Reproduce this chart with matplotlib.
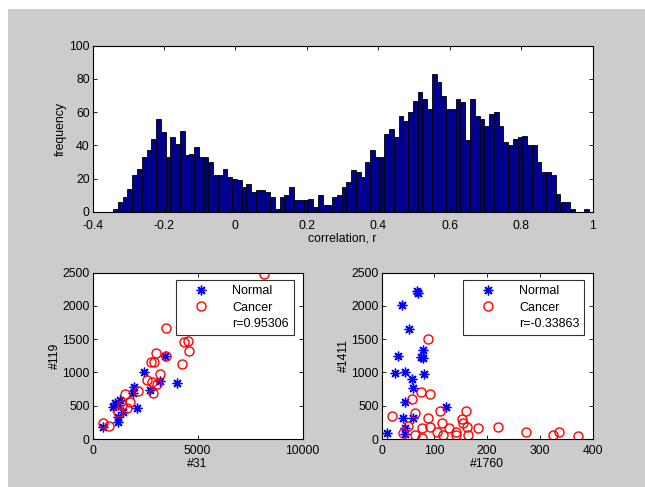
import numpy as np
import matplotlib
matplotlib.use("Agg")
import matplotlib.pyplot as plt
from matplotlib.patches import Rectangle
from matplotlib.lines import Line2D

plt.rcParams["font.family"] = ["Liberation Sans", "DejaVu Sans"]
plt.rcParams["font.size"] = 8.8

# histogram of correlations (100 bins from -0.342 to 0.99)
hist_lo, hist_hi = -0.342, 0.99
hist_counts = [2, 6, 9, 14, 22, 26, 33, 37, 44, 56, 48, 33, 45, 41, 49, 34, 35, 39, 33, 33,
               30, 22, 22, 26, 21, 20, 19, 15, 17, 12, 13, 13, 12, 9, 2, 9, 10, 15, 7, 7,
               7, 8, 3, 10, 4, 4, 9, 10, 15, 18,
               25, 24, 21, 30, 37, 33, 33, 47, 50, 45, 58, 55, 60, 67, 72, 68, 62, 83, 78, 70,
               62, 62, 68, 66, 43, 68, 58, 56, 52, 59, 60, 52, 42, 40, 44, 45, 46, 40, 40, 30,
               24, 24, 22, 11, 6, 6, 2, 0, 0, 2]

# gene #31 vs #119
g31_normal = [3450, 2469, 3216, 4040, 2739, 1992, 1945, 1310, 1071, 992, 1230, 2103, 1468, 1198, 484, 1230]
g119_normal = [1252, 1012, 872, 847, 736, 786, 696, 586, 536, 486, 511, 461, 411, 261, 185, 336]
g31_cancer = [8183, 3500, 4373, 4533, 4610, 4246, 3040, 3500, 2786, 2929, 3200, 2580, 2810, 3050,
              2183, 2865, 1548, 1786, 1389, 1627, 1230, 516, 801]
g119_cancer = [2480, 1673, 1453, 1468, 1327, 1122, 1288, 1252, 1152, 1152, 972, 887, 862, 832,
               721, 686, 671, 561, 511, 461, 411, 246, 195]
r_left = "r=0.95306"

# gene #1760 vs #1411
g1760_normal = [67, 70, 38, 53, 32, 78, 75, 79, 26, 45, 81, 57, 60, 45, 122, 41, 60, 10, 45, 45]
g1411_normal = [2224, 2189, 2014, 1653, 1247, 1338, 1237, 1212, 987, 1002, 972, 897, 772, 561,
                486, 311, 321, 85, 161, 75]
g1760_cancer = [88, 75, 92, 57, 110, 160, 64, 19, 88, 152, 115, 155, 161, 220, 182, 51, 76, 92,
                127, 106, 142, 274, 324, 336, 373, 163, 116, 141, 64, 77, 41]
g1411_cancer = [1503, 711, 671, 596, 421, 421, 386, 346, 311, 296, 236, 236, 186, 186, 171, 196,
                160, 186, 160, 110, 110, 100, 60, 100, 45, 55, 55, 55, 55, 15, 85]
r_right = "r=-0.33863"

W, H = 645, 487
fig = plt.figure(figsize=(W / 100, H / 100), dpi=100)
fig.patches.append(Rectangle((8 / W, 0), 1, 1 - 9 / H, transform=fig.transFigure,
                             facecolor="#cccccc", edgecolor="none", zorder=-10))


def style(ax, xpad=4):
    ax.tick_params(direction="in", top=True, right=True, length=3, width=0.6, pad=2)
    ax.tick_params(axis="x", pad=xpad)
    for s in ax.spines.values():
        s.set_linewidth(0.8)


ax = fig.add_axes([92.5 / W, 1 - 212 / H, 500 / W, 166.3 / H])
edges = np.linspace(hist_lo, hist_hi, len(hist_counts) + 1)
ax.bar(edges[:-1], hist_counts, width=np.diff(edges), align="edge",
       color="#00008f", edgecolor="black", linewidth=0.6)
ax.set_xlim(-0.4, 1)
ax.set_ylim(0, 100)
ax.set_xticks([-0.4, -0.2, 0, 0.2, 0.4, 0.6, 0.8, 1])
ax.set_xticklabels(["-0.4", "-0.2", "0", "0.2", "0.4", "0.6", "0.8", "1"])
ax.set_yticks(range(0, 101, 20))
ax.set_xlabel("correlation, r", labelpad=0)
ax.set_ylabel("frequency", labelpad=2)
style(ax, xpad=6)

star = dict(marker=(8, 2, 0), linestyle="none", color="blue", markersize=7, markeredgewidth=1.0)
circ = dict(marker="o", linestyle="none", markerfacecolor="none", markeredgecolor="red",
            markersize=6.5, markeredgewidth=1.0)


def scatter_panel(rect, xn, yn, xc, yc, xmax, xticks, rtext, xlabel, ylabel):
    a = fig.add_axes(rect)
    a.plot(xn, yn, **star)
    a.plot(xc, yc, **circ)
    a.set_xlim(0, xmax)
    a.set_ylim(0, 2500)
    a.set_xticks(xticks)
    a.set_yticks(range(0, 2501, 500))
    a.set_xlabel(xlabel, labelpad=1)
    a.set_ylabel(ylabel, labelpad=1)
    style(a)
    handles = [Line2D([], [], **star), Line2D([], [], **circ), Line2D([], [], linestyle="none")]
    leg = a.legend(handles, ["Normal", "Cancer", rtext], loc="upper right",
                   bbox_to_anchor=(0.96, 0.955), frameon=True, fancybox=False,
                   edgecolor="black", borderpad=0.4, labelspacing=0.35,
                   handletextpad=0.9, handlelength=3.2, borderaxespad=0, fontsize=9)
    leg.get_frame().set_linewidth(0.8)
    return a


scatter_panel([92.5 / W, 1 - 439 / H, 210 / W, 166.3 / H], g31_normal, g119_normal,
              g31_cancer, g119_cancer, 10000, [0, 5000, 10000], r_left, "#31", "#119")
scatter_panel([381.5 / W, 1 - 439 / H, 211.2 / W, 166.3 / H], g1760_normal, g1411_normal,
              g1760_cancer, g1411_cancer, 400, [0, 100, 200, 300, 400], r_right, "#1760", "#1411")

fig.savefig("out.png", dpi=100)
